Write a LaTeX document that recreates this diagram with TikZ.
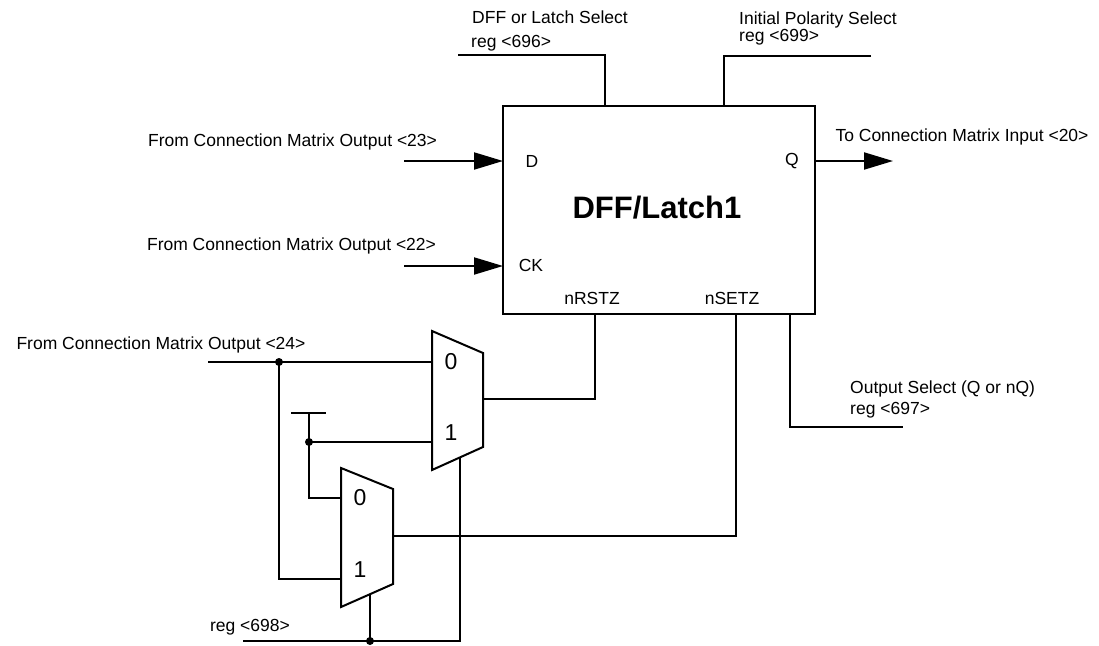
\documentclass[tikz,border=0pt]{standalone}
\usepackage{fontspec}
\setmainfont{Liberation Sans}
\usetikzlibrary{arrows.meta}
\begin{document}
\begin{tikzpicture}[x=1pt,y=-1pt,
  wire/.style={line width=2pt},
  lbl/.style={font=\fontsize{17.5}{20}\selectfont, inner sep=0pt},
  muxlbl/.style={font=\fontsize{23}{26}\selectfont, inner sep=0pt},
  sig/.style={line width=2pt,-{Triangle[length=29pt,width=17pt]}},
  jdot/.style={circle, fill, inner sep=0pt, minimum size=8pt},
  muxbox/.style={draw, line width=2pt, line join=miter}]
\useasboundingbox (0,0) rectangle (1099,645);

% main block
\node[draw, line width=2pt, minimum width=312pt, minimum height=208pt, inner sep=0pt] (ff) at (659,210) {};
\node[font=\bfseries\fontsize{31}{34}\selectfont, inner sep=0pt] (title) at (657,208) {DFF/Latch1};
\node[lbl] (pD) at (532,161) {D};
\node[lbl] (pQ) at (792,161) {Q};
\node[lbl] (pCK) at (531,265) {CK};
\node[lbl] (pR) at (592,298) {nRSTZ};
\node[lbl] (pS) at (732,298) {nSETZ};

% pins on the block
\coordinate (Din) at (503,161);
\coordinate (CKin) at (503,266);
\coordinate (Qout) at (815,161);
\coordinate (Rpin) at (595,314);
\coordinate (Spin) at (736,314);
\coordinate (OSpin) at (790,314);
\coordinate (DLpin) at (605,106);
\coordinate (IPpin) at (724,106);

% inputs / outputs
\coordinate (dsrc) at (404,161);
\coordinate (cksrc) at (404,266);
\coordinate (qdst) at (893,161);
\draw[sig] (dsrc) -- (Din);
\draw[sig] (cksrc) -- (CKin);
\draw[sig] (Qout) -- (qdst);
\node[lbl] (l23) at (292.5,142) {From Connection Matrix Output <23>};
\node[lbl] (l22) at (291.5,246) {From Connection Matrix Output <22>};
\node[lbl] (l20) at (962,137) {To Connection Matrix Input <20>};

% top selects
\coordinate (dlend) at (458,55);
\coordinate (ipend) at (871,56);
\draw[wire] (dlend) -- (DLpin |- dlend) -- (DLpin);
\draw[wire] (ipend) -- (IPpin |- ipend) -- (IPpin);
\node[lbl] (ldl) at (550,17) {DFF or Latch Select};
\node[lbl, anchor=west] (r696) at (471,43) {reg <696>};
\node[lbl, anchor=west] (lip) at (739,20) {Initial Polarity Select};
\node[lbl, anchor=west] (r699) at (739,37) {reg <699>};

% output select
\coordinate (osend) at (903,427);
\draw[wire] (OSpin) -- (OSpin |- osend) -- (osend);
\node[lbl, anchor=west] (los) at (850,389) {Output Select (Q or nQ)};
\node[lbl, anchor=west] (r697) at (850,410) {reg <697>};

% mux 1
\coordinate (m1a) at (432,331);
\coordinate (m1b) at (483,353);
\coordinate (m1c) at (483,447);
\coordinate (m1d) at (432,470);
\draw[muxbox] (m1a) -- (m1b) -- (m1c) -- (m1d) -- cycle;
\node[muxlbl] (m1zero) at (451,362) {0};
\node[muxlbl] (m1one) at (451,433) {1};
\coordinate (m1out) at (483,399);
\coordinate (m1in0) at (432,362);
\coordinate (m1in1) at (432,442);
\coordinate (m1sel) at (460,457.4);

% mux 2
\coordinate (m2a) at (341,468);
\coordinate (m2b) at (393,489);
\coordinate (m2c) at (393,584);
\coordinate (m2d) at (341,607);
\draw[muxbox] (m2a) -- (m2b) -- (m2c) -- (m2d) -- cycle;
\node[muxlbl] (m2zero) at (360,498) {0};
\node[muxlbl] (m2one) at (360,570) {1};
\coordinate (m2out) at (393,536);
\coordinate (m2in0) at (341,498);
\coordinate (m2in1) at (341,579);
\coordinate (m2sel) at (370,594);

% reset / set wiring
\draw[wire] (Rpin) -- (Rpin |- m1out) -- (m1out);
\draw[wire] (Spin) -- (Spin |- m2out) -- (m2out);

% input <24>
\coordinate (s24) at (208,362);
\node[jdot] (j24) at (279,362) {};
\draw[wire] (s24) -- (m1in0);
\draw[wire] (j24.center) -- (j24.center |- m2in1) -- (m2in1);
\node[lbl] (l24) at (161,345) {From Connection Matrix Output <24>};

% tie-high
\coordinate (tbl) at (291,413);
\coordinate (tbr) at (326,413);
\coordinate (ttop) at (309,413);
\node[jdot] (jt) at (309,442) {};
\draw[wire] (tbl) -- (tbr);
\draw[wire] (ttop) -- (ttop |- m2in0) -- (m2in0);
\draw[wire] (jt.center) -- (m1in1);

% reg <698>
\coordinate (r98s) at (243,641);
\coordinate (r98e) at (460,641);
\node[jdot] (j98) at (370,641) {};
\draw[wire] (r98s) -- (r98e) -- (m1sel);
\draw[wire] (m2sel) -- (j98.center);
\node[lbl] (l98) at (250,627) {reg <698>};
\end{tikzpicture}
\end{document}
